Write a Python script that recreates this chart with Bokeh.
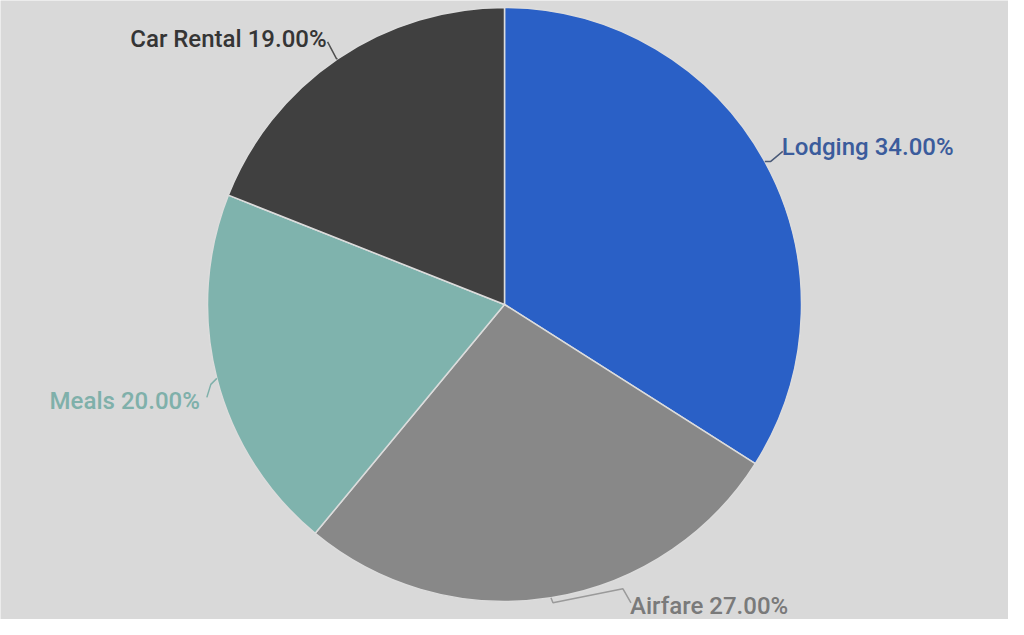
import math
from bokeh.plotting import figure
from bokeh.models import Range1d, ColumnDataSource
from bokeh.core.properties import value
from bokeh.embed import file_html
from bokeh.resources import INLINE

categories = ["Lodging", "Airfare", "Meals", "Car Rental"]
shares = [34.0, 27.0, 20.0, 19.0]

colors = ["#2a60c6", "#888888", "#7fb3ad", "#404040"]
label_colors = ["#3b5c9c", "#7a7a7a", "#7fb0aa", "#353535"]
leader_colors = ["#4a5a78", "#9a9a9a", "#7fb0aa", "#505050"]

W, H = 1008, 619
BG = "#d9d9d9"
cx, cy, R = 504, 315, 297

p = figure(width=W, height=H, output_backend="svg", toolbar_location=None,
           x_range=Range1d(0, W), y_range=Range1d(0, H),
           min_border=0, outline_line_color=None,
           background_fill_color=BG, border_fill_color=BG)
p.axis.visible = False
p.grid.visible = False

total = sum(shares)
starts, ends, mids = [], [], []
cum = 0.0
for s in shares:
    a0 = math.pi / 2 - 2 * math.pi * cum / total
    cum += s
    a1 = math.pi / 2 - 2 * math.pi * cum / total
    starts.append(a0)
    ends.append(a1)
    mids.append((a0 + a1) / 2)

src = ColumnDataSource(dict(start=starts, end=ends, color=colors))
p.wedge(x=cx, y=cy, radius=R, start_angle="start", end_angle="end",
        direction="clock", fill_color="color", line_color="#dcdcdc",
        line_width=1.5, source=src)

# leader-line bend offsets (pixels, relative to slice edge point) and text anchors
leader_offsets = [
    [(6, 0), (18, 10)],
    [(2, -5), (72, 9), (80, -5)],
    [(-6, -6), (-10, -19)],
    [(-1, 0), (-10, 17)],
]
text_offsets = [(17, 14), (79, -8), (-17, -23), (-11, 20)]
aligns = ["left", "left", "right", "right"]

for i, cat in enumerate(categories):
    ex = cx + R * math.cos(mids[i])
    ey = cy + R * math.sin(mids[i])
    xs = [ex] + [ex + dx for dx, dy in leader_offsets[i]]
    ys = [ey] + [ey + dy for dx, dy in leader_offsets[i]]
    p.line(xs, ys, line_color=leader_colors[i], line_width=1.5)
    tx, ty = text_offsets[i]
    p.text(x=[ex + tx], y=[ey + ty], text=[f"{cat} {shares[i]:.2f}%"],
           text_font=value("Roboto Medium, Roboto"), text_font_size="24px",
           text_color=label_colors[i], text_align=aligns[i],
           text_baseline="middle")

html = file_html(p, INLINE)
html = html.replace("<body>", f'<body style="background:{BG};">', 1)
open("out.html", "w").write(html)
